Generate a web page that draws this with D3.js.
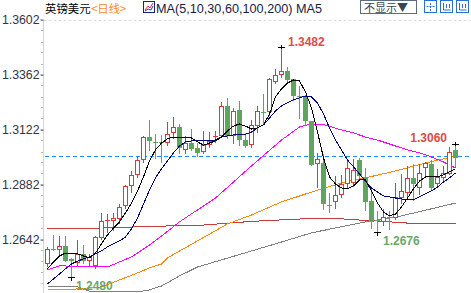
<!DOCTYPE html>
<html>
<head>
<meta charset="utf-8">
<script src="https://cdn.jsdelivr.net/npm/d3@7"></script>
<style>
  body { margin: 0; background: #fff; overflow: hidden; }
  svg { display: block; font-family: "Liberation Sans", Arial, sans-serif; }
</style>
</head>
<body>
<svg id="chart" width="471" height="293"></svg>
<script>
// price ticks on the left axis
const yTicks = [1.3602, 1.3362, 1.3122, 1.2882, 1.2642];

// daily candles (GBP/USD)
const opens  = [1.2540,1.2601,1.2601,1.2614,1.2555,1.2544,1.2579,1.2553,1.2531,1.2653,1.2725,1.2727,1.2736,1.2793,1.2880,1.2928,1.2993,1.3089,1.3069,1.3068,1.3068,1.3111,1.3133,1.3037,1.3063,1.3041,1.3028,1.3059,1.3093,1.3098,1.3225,1.3098,1.3207,1.3076,1.3059,1.3142,1.3199,1.3203,1.3334,1.3364,1.3377,1.3342,1.3270,1.3268,1.3159,1.2976,1.2976,1.2794,1.2810,1.2841,1.2889,1.2893,1.2989,1.2915,1.2810,1.2728,1.2723,1.2741,1.2740,1.2828,1.2849,1.2911,1.2871,1.2959,1.2972,1.2889,1.2915,1.2932,1.3033];
const highs  = [1.2614,1.2666,1.2662,1.2662,1.2566,1.2644,1.2623,1.2583,1.2662,1.2762,1.2758,1.2762,1.2801,1.2884,1.2945,1.3006,1.3098,1.3168,1.3107,1.3102,1.3159,1.3181,1.3150,1.3098,1.3129,1.3068,1.3120,1.3116,1.3120,1.3246,1.3264,1.3220,1.3251,1.3111,1.3168,1.3229,1.3281,1.3351,1.3390,1.3482,1.3399,1.3347,1.3316,1.3277,1.3164,1.3024,1.3020,1.2849,1.2924,1.2928,1.2998,1.2998,1.3002,1.2959,1.2871,1.2771,1.2780,1.2771,1.2893,1.2932,1.2967,1.2976,1.2976,1.2985,1.2993,1.2954,1.2967,1.3050,1.3060];
const lows   = [1.2527,1.2596,1.2575,1.2548,1.2480,1.2527,1.2540,1.2531,1.2518,1.2644,1.2675,1.2684,1.2714,1.2780,1.2849,1.2915,1.2980,1.3033,1.2998,1.2980,1.3054,1.3085,1.3020,1.3020,1.3033,1.3006,1.3020,1.3046,1.3068,1.3089,1.3085,1.3063,1.3054,1.3046,1.3046,1.3111,1.3150,1.3185,1.3325,1.3351,1.3329,1.3251,1.3172,1.3146,1.2967,1.2871,1.2775,1.2762,1.2780,1.2828,1.2871,1.2876,1.2911,1.2771,1.2692,1.2676,1.2705,1.2688,1.2732,1.2801,1.2828,1.2814,1.2841,1.2915,1.2858,1.2880,1.2902,1.2928,1.2963];
const closes = [1.2601,1.2599,1.2614,1.2553,1.2553,1.2579,1.2553,1.2566,1.2653,1.2723,1.2727,1.2736,1.2784,1.2876,1.2924,1.2989,1.3089,1.3076,1.3067,1.3066,1.3102,1.3133,1.3046,1.3063,1.3041,1.3024,1.3054,1.3072,1.3094,1.3225,1.3098,1.3203,1.3081,1.3054,1.3142,1.3203,1.3197,1.3342,1.3360,1.3377,1.3342,1.3273,1.3268,1.3164,1.2972,1.2993,1.2801,1.2793,1.2836,1.2884,1.2954,1.2945,1.2924,1.2810,1.2723,1.2727,1.2740,1.2740,1.2828,1.2854,1.2911,1.2889,1.2932,1.2976,1.2871,1.2915,1.2932,1.3024,1.3002];

// moving averages
const ma5  = [1.2514,1.2544,1.2570,1.2583,1.2583,1.2579,1.2570,1.2562,1.2583,1.2623,1.2662,1.2692,1.2719,1.2758,1.2801,1.2854,1.2915,1.2985,1.3033,1.3063,1.3081,1.3089,1.3089,1.3085,1.3085,1.3068,1.3054,1.3063,1.3072,1.3089,1.3116,1.3137,1.3146,1.3137,1.3124,1.3129,1.3142,1.3190,1.3264,1.3299,1.3325,1.3338,1.3334,1.3286,1.3216,1.3111,1.2998,1.2915,1.2884,1.2867,1.2863,1.2876,1.2902,1.2902,1.2854,1.2801,1.2762,1.2745,1.2753,1.2784,1.2823,1.2863,1.2897,1.2915,1.2915,1.2915,1.2924,1.2937,1.2950];
const ma10 = [1.2448,1.2470,1.2492,1.2514,1.2535,1.2548,1.2557,1.2566,1.2579,1.2592,1.2610,1.2623,1.2636,1.2653,1.2688,1.2736,1.2797,1.2858,1.2911,1.2950,1.2985,1.3020,1.3050,1.3068,1.3072,1.3072,1.3072,1.3072,1.3076,1.3089,1.3094,1.3098,1.3102,1.3102,1.3111,1.3129,1.3142,1.3172,1.3203,1.3225,1.3238,1.3251,1.3260,1.3268,1.3264,1.3238,1.3190,1.3129,1.3076,1.3033,1.2989,1.2959,1.2928,1.2897,1.2867,1.2849,1.2832,1.2828,1.2823,1.2819,1.2815,1.2815,1.2828,1.2841,1.2854,1.2871,1.2893,1.2911,1.2932];

const ma30Idx  = [0, 2, 10, 14, 17, 19, 22, 28, 34, 39, 42, 44, 46, 49, 51, 53, 55, 58, 60, 62, 64, 66, 68];
const ma30     = [1.2509,1.2527,1.2522,1.2566,1.2618,1.2657,1.2719,1.2823,1.2963,1.3076,1.3133,1.3146,1.3144,1.3120,1.3107,1.3089,1.3076,1.3050,1.3033,1.3020,1.3002,1.2980,1.2954];
const ma60Idx  = [0, 3, 9, 15, 17, 19, 20, 25, 30, 34, 39, 44, 49, 53, 58, 63, 68];
const ma60     = [1.2422,1.2422,1.2435,1.2496,1.2518,1.2535,1.2562,1.2636,1.2710,1.2749,1.2806,1.2849,1.2889,1.2911,1.2941,1.2976,1.3006];
const ma100Idx = [0, 9, 17, 26, 34, 44, 48, 52, 56, 62, 68];
const ma100    = [1.2688,1.2692,1.2699,1.2705,1.2721,1.2734,1.2734,1.2727,1.2721,1.2710,1.2710];
const ma200Idx = [0, 5, 7, 12, 15, 17, 19, 22, 25, 29, 34, 39, 44, 53, 59, 68];
const ma200    = [1.2435,1.2435,1.2417,1.2413,1.2413,1.2422,1.2439,1.2483,1.2522,1.2553,1.2592,1.2631,1.2671,1.2719,1.2745,1.2801];

const lastPrice = 1.3005;
// labelled extremes: candle index, which end, label text
const markIdx  = [39, 4, 55, 68];
const markType = ["high", "low", "low", "high"];

const width = 471, height = 293;
const svg = d3.select("#chart");

const x = d3.scaleLinear().domain([0, opens.length - 1]).range([47.5, 455.5]);
const y = d3.scaleLinear().domain([1.2642, 1.3602]).range([239.5, 19.5]);
const py = v => Math.round(y(v)) + 0.5;

const RED = "#d93b3b", GREEN = "#5ea55e";

/* header */
const head = svg.append("g");
head.append("text").attr("x", 45).attr("y", 13)
    .attr("font-family", "'Noto Sans CJK SC'").attr("font-size", "11.4px").attr("fill", "#000")
    .text("英镑美元");
head.append("text").attr("x", 91).attr("y", 13)
    .attr("font-family", "'Noto Sans CJK SC'").attr("font-size", "11.4px").attr("fill", "#ff8a1c")
    .text("<日线>");
head.append("rect").attr("x", 143.5).attr("y", 1.5).attr("width", 11).attr("height", 11)
    .attr("fill", "#fff").attr("stroke", "#1a237e");
head.append("polyline").attr("points", "145,10 148,6 150,8 153,3")
    .attr("fill", "none").attr("stroke", "#d33").attr("stroke-width", 1);
head.append("polyline").attr("points", "145,11 148,9 151,10 153,6")
    .attr("fill", "none").attr("stroke", "#33c").attr("stroke-width", 1);
head.append("text").attr("x", 156).attr("y", 13)
    .attr("font-size", "12.6px").attr("fill", "#1b1b3f")
    .attr("textLength", 166).attr("lengthAdjust", "spacingAndGlyphs")
    .text("MA(5,10,30,60,100,200) MA5");
head.append("rect").attr("x", 360.5).attr("y", 0.5).attr("width", 56).attr("height", 13)
    .attr("fill", "#fff").attr("stroke", "#5b6b80");
head.append("text").attr("x", 364).attr("y", 11.5)
    .attr("font-family", "'Noto Sans CJK SC'").attr("font-size", "11px").attr("fill", "#3a4455")
    .text("不显示▼");
[424.5, 440.5, 456.5].forEach(function(bx, k) {
    head.append("rect").attr("x", bx).attr("y", 0.5).attr("width", 12).attr("height", 12)
        .attr("fill", "#fff").attr("stroke", "#2a6fd6");
    if (k === 0) {
        head.append("path").attr("d", `M${bx+6},${3} V${11} M${bx+2},${6.5} H${bx+10}`)
            .attr("stroke", "#2a6fd6").attr("stroke-dasharray", "2,1");
    } else {
        head.append("path").attr("d", `M${bx+3},${3} V${10} H${bx+10} M${bx+6},${4} V${8} M${bx+9},${4} V${8}`)
            .attr("stroke", "#2a6fd6").attr("fill", "none");
    }
});

/* axis and grid */
svg.append("line").attr("x1", 43.5).attr("x2", 471).attr("y1", py(1.3602)).attr("y2", py(1.3602))
    .attr("stroke", "#dcdcdc").attr("stroke-dasharray", "3,2");
svg.append("line").attr("x1", 43.5).attr("x2", 43.5).attr("y1", 20).attr("y2", height)
    .attr("stroke", "#d5d5d5");

const minor = d3.range(0, 26).map(k => 1.3602 - k * 0.0048);
svg.append("g").selectAll("line").data(minor).join("line")
    .attr("x1", 41).attr("x2", 43).attr("y1", d => py(d)).attr("y2", d => py(d))
    .attr("stroke", "#b8b8b8");

const axis = d3.axisLeft(y).tickValues(yTicks).tickFormat(d3.format(".4f")).tickSize(3).tickPadding(1);
const ag = svg.append("g").attr("transform", "translate(43.5,0)").call(axis);
ag.select(".domain").remove();
ag.selectAll(".tick line").attr("stroke", "#555");
ag.selectAll(".tick text").attr("font-size", "12.3px").attr("fill", "#333344")
    .attr("font-family", "'Liberation Sans', Arial, sans-serif");

/* last price */
svg.append("line").attr("x1", 45).attr("x2", 471).attr("y1", py(lastPrice)).attr("y2", py(lastPrice))
    .attr("stroke", "#1e8cff").attr("stroke-dasharray", "4,3");

/* moving averages */
const plot = svg.append("g");
function drawMA(vals, idx, color) {
    const pts = vals.map((v, k) => [x(idx ? idx[k] : k), y(v)]);
    plot.append("path").attr("d", d3.line()(pts))
        .attr("fill", "none").attr("stroke", color).attr("stroke-width", 1)
        .attr("shape-rendering", "crispEdges");
}
drawMA(ma200, ma200Idx, "#808080");
drawMA(ma100, ma100Idx, "#cc3b3b");
drawMA(ma60, ma60Idx, "#ff8800");
drawMA(ma30, ma30Idx, "#ff00ff");

/* candles */
const candles = plot.append("g").attr("shape-rendering", "crispEdges");
d3.range(opens.length).forEach(function(i) {
    const o = opens[i], c = closes[i], up = c >= o;
    const col = up ? RED : GREEN;
    const cx = Math.round(x(i) - 0.5) + 0.5;
    candles.append("line").attr("x1", cx).attr("x2", cx)
        .attr("y1", py(highs[i])).attr("y2", py(lows[i])).attr("stroke", col);
    const top = py(Math.max(o, c)), bot = py(Math.min(o, c));
    if (bot - top < 1) {
        candles.append("line").attr("x1", cx - 2.5).attr("x2", cx + 2.5)
            .attr("y1", top).attr("y2", top).attr("stroke", col);
    } else if (up) {
        candles.append("rect").attr("x", cx - 2).attr("y", top).attr("width", 4).attr("height", bot - top)
            .attr("fill", "#fff").attr("stroke", col);
    } else {
        candles.append("rect").attr("x", cx - 2.5).attr("y", top - 0.5).attr("width", 5).attr("height", bot - top + 1)
            .attr("fill", col);
    }
});

drawMA(ma10, null, "#00007f");
drawMA(ma5, null, "#000000");

/* high / low marks */
markIdx.forEach(function(i, k) {
    const cx = Math.round(x(i) - 0.5) + 0.5;
    const isHigh = markType[k] === "high";
    const v = isHigh ? highs[i] : lows[i];
    const yy = py(v);
    svg.append("path").attr("shape-rendering", "crispEdges")
        .attr("d", `M${cx - 3.5},${yy} H${cx + 3.5} M${cx},${isHigh ? yy - 3 : yy - 1} V${isHigh ? yy + 1 : yy + 3}`)
        .attr("stroke", "#000");
});
const labelPos = [[288, 45.5, "start"], [76, 289.5, "start"], [383, 244.5, "start"], [447, 141.5, "end"]];
markIdx.forEach(function(i, k) {
    const isHigh = markType[k] === "high";
    const v = isHigh ? highs[i] : lows[i];
    svg.append("text").attr("x", labelPos[k][0]).attr("y", labelPos[k][1])
        .attr("text-anchor", labelPos[k][2])
        .attr("font-size", "12px").attr("font-weight", "bold")
        .attr("fill", isHigh ? "#e04a4a" : "#6aa86a")
        .text(d3.format(".4f")(v));
});
</script>
</body>
</html>
